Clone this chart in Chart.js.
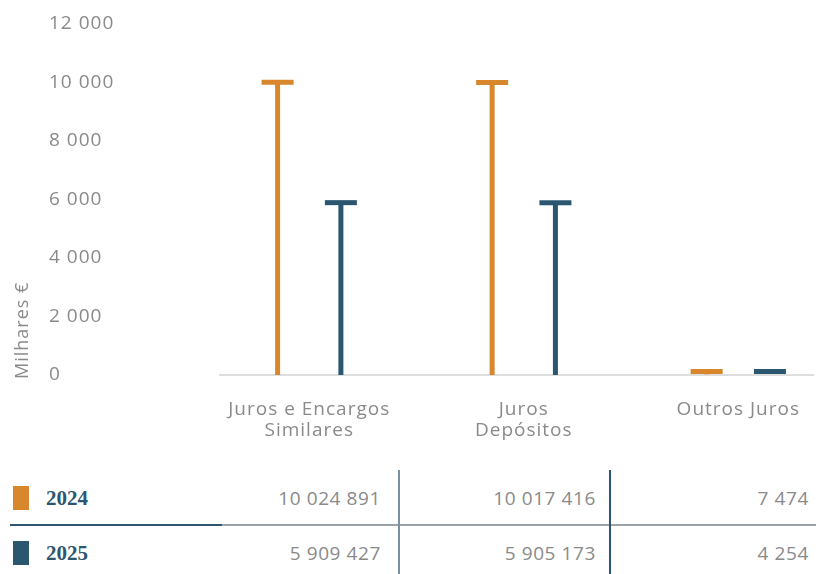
<!DOCTYPE html>
<html lang="pt">
<head>
<meta charset="UTF-8">
<meta name="viewport" content="width=device-width, initial-scale=1.0">
<title>Juros e Encargos Similares</title>
<script src="https://cdn.jsdelivr.net/npm/chart.js"></script>
<style>
    body { margin: 0; background: #fff; font-family: "Open Sans", sans-serif; }
    #wrap { position: relative; width: 816px; height: 574px; overflow: hidden; }
    #chartBox { position: absolute; left: 0; top: 0; width: 816px; height: 460px; }
    .swatch { position: absolute; left: 13px; width: 16px; height: 24px; }
    .year {
        position: absolute; left: 46px; transform: translateY(-50%);
        font-family: "Liberation Serif", serif; font-weight: bold; font-size: 21px; color: #2b5670;
    }
    .val {
        position: absolute; transform: translate(-100%, -50%); white-space: nowrap;
        font-size: 19px; color: #8a8a8a; letter-spacing: 0.6px;
    }
    .rule { position: absolute; }
</style>
</head>
<body>
<div id="wrap">
    <div id="chartBox"><canvas id="jurosChart"></canvas></div>
    <div id="table"></div>
</div>
<script>
    var categories = [['Juros e Encargos', 'Similares'], ['Juros', 'Depósitos'], 'Outros Juros'];
    var years = ['2024', '2025'];
    var values2024 = [10024891, 10017416, 7474];
    var values2025 = [5909427, 5905173, 4254];
    var colors = ['#d8872d', '#2b5670'];

    function fmt(n) {
        return String(Math.round(n)).replace(/\B(?=(\d{3})+(?!\d))/g, ' ');
    }

    // canvas state is reset on resize, so set the spacing before measuring and drawing
    var spacing = {
        id: 'spacing',
        beforeLayout: function(chart) { chart.ctx.letterSpacing = '1px'; },
        beforeDraw: function(chart) { chart.ctx.letterSpacing = '1px'; }
    };

    // horizontal cap on top of every stem
    var caps = {
        id: 'caps',
        afterDatasetsDraw: function(chart) {
            var ctx = chart.ctx;
            var base = chart.scales.y.getPixelForValue(0);
            chart.data.datasets.forEach(function(ds, d) {
                chart.getDatasetMeta(d).data.forEach(function(bar) {
                    var top = Math.min(bar.y - 2, base - 6);
                    ctx.fillStyle = ds.backgroundColor;
                    ctx.fillRect(bar.x - 16, top, 32, 5);
                });
            });
        }
    };

    var yTitle = {
        id: 'yTitle',
        afterDraw: function(chart) {
            var ctx = chart.ctx;
            ctx.save();
            ctx.letterSpacing = '1px';
            ctx.translate(23, chart.chartArea.bottom + 4);
            ctx.rotate(-Math.PI / 2);
            ctx.font = '18px "Open Sans"';
            ctx.fillStyle = '#8a8a8a';
            ctx.textAlign = 'left';
            ctx.textBaseline = 'middle';
            ctx.fillText('Milhares €', 0, 0);
            ctx.restore();
        }
    };

    var ctx = document.getElementById('jurosChart').getContext('2d');
    var jurosChart = new Chart(ctx, {
        type: 'bar',
        data: {
            datasets: [
                {
                    label: years[0],
                    data: values2024.map(function(v, i) { return { x: i, y: v / 1000 }; }),
                    backgroundColor: colors[0]
                },
                {
                    label: years[1],
                    data: values2025.map(function(v, i) { return { x: i, y: v / 1000 }; }),
                    backgroundColor: colors[1]
                }
            ]
        },
        options: {
            responsive: true,
            maintainAspectRatio: false,
            animation: false,
            maxBarThickness: 5,
            categoryPercentage: 0.59,
            layout: { padding: { left: 49, top: 24, right: 0, bottom: 0 } },
            plugins: { legend: { display: false }, tooltip: { enabled: false } },
            scales: {
                x: {
                    type: 'linear',
                    offset: false,
                    min: -0.416,
                    max: 2.352,
                    grid: { display: false },
                    border: { display: true, color: '#dedede', width: 2 },
                    afterFit: function(scale) { scale.height = 85; },
                    ticks: {
                        stepSize: 1,
                        includeBounds: false,
                        autoSkip: false,
                        maxRotation: 0,
                        padding: 16,
                        color: '#8a8a8a',
                        font: { family: 'Open Sans', size: 19, lineHeight: '21px' },
                        callback: function(v) { return Number.isInteger(v) ? categories[v] : ''; }
                    }
                },
                y: {
                    min: 0,
                    max: 12000,
                    grid: { display: false },
                    border: { display: false },
                    afterFit: function(scale) { scale.width = 171; },
                    ticks: {
                        stepSize: 2000,
                        crossAlign: 'far',
                        color: '#8a8a8a',
                        font: { family: 'Open Sans', size: 19 },
                        callback: function(v) { return fmt(v); }
                    }
                }
            }
        },
        plugins: [spacing, caps, yTitle]
    });

    // values table under the chart
    var table = document.getElementById('table');
    var rows = [values2024, values2025];
    var rowY = [498, 553];
    var colRight = [381, 596, 809];
    rows.forEach(function(vals, r) {
        table.insertAdjacentHTML('beforeend',
            '<div class="swatch" style="top:' + (rowY[r] - 12) + 'px;background:' + colors[r] + '"></div>' +
            '<div class="year" style="top:' + rowY[r] + 'px">' + years[r] + '</div>');
        vals.forEach(function(v, c) {
            table.insertAdjacentHTML('beforeend',
                '<div class="val" style="left:' + colRight[c] + 'px;top:' + rowY[r] + 'px">' + fmt(v) + '</div>');
        });
    });
    table.insertAdjacentHTML('beforeend',
        '<div class="rule" style="left:10px;top:524px;width:212px;height:2px;background:#2f5670"></div>' +
        '<div class="rule" style="left:222px;top:524px;width:594px;height:2px;background:#9aa2a8"></div>' +
        '<div class="rule" style="left:398px;top:470px;width:2px;height:104px;background:#7890a2"></div>' +
        '<div class="rule" style="left:609px;top:470px;width:2px;height:104px;background:#2f5670"></div>');
</script>
</body>
</html>
